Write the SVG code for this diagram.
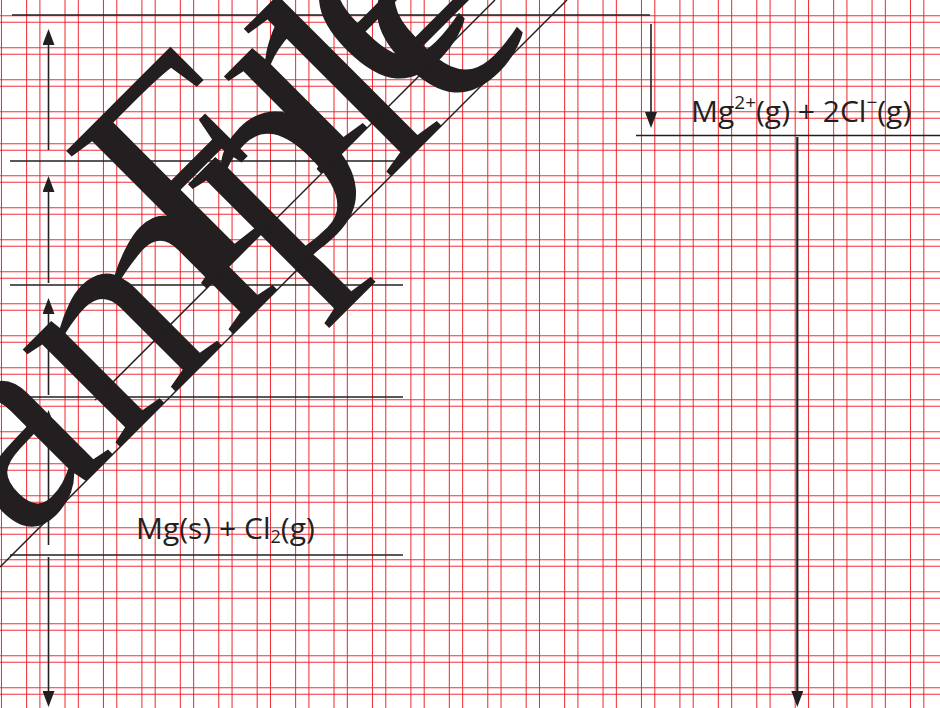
<svg xmlns="http://www.w3.org/2000/svg" width="940" height="708" viewBox="0 0 940 708">
<defs>
<style>
.g line{stroke:#ed1c24;stroke-width:1.05;stroke-opacity:0.9}
.lv{stroke:#231f20;stroke-width:1.7;fill:none}
.ar{stroke:#231f20;stroke-width:1.6;fill:none;marker-end:url(#ah)}
.lab{font-family:"Open Sans","Noto Sans",sans-serif;font-size:30px;fill:#231f20}
.wm{font-family:"Liberation Serif","Times New Roman",serif;font-size:300px;fill:#231f20}
.wl{stroke:#231f20;stroke-width:1.5}
</style>
<marker id="ah" viewBox="0 0 16 12" refX="0" refY="6" markerWidth="16" markerHeight="12" markerUnits="userSpaceOnUse" orient="auto">
<path d="M0,0 L16,6 L0,12 z" fill="#231f20"/>
</marker>
</defs>
<rect width="940" height="708" fill="#ffffff"/>
<g id="grid" class="g">
<line x1="1.47" y1="0" x2="1.47" y2="708"/>
<line x1="26.6" y1="0" x2="26.6" y2="708"/><line x1="39.9" y1="0" x2="39.9" y2="708"/>
<line x1="65.03" y1="0" x2="65.03" y2="708"/><line x1="78.33" y1="0" x2="78.33" y2="708"/>
<line x1="103.46" y1="0" x2="103.46" y2="708"/><line x1="116.76" y1="0" x2="116.76" y2="708"/>
<line x1="141.89" y1="0" x2="141.89" y2="708"/><line x1="155.19" y1="0" x2="155.19" y2="708"/>
<line x1="180.32" y1="0" x2="180.32" y2="708"/><line x1="193.62" y1="0" x2="193.62" y2="708"/>
<line x1="218.75" y1="0" x2="218.75" y2="708"/><line x1="232.05" y1="0" x2="232.05" y2="708"/>
<line x1="257.18" y1="0" x2="257.18" y2="708"/><line x1="270.48" y1="0" x2="270.48" y2="708"/>
<line x1="295.61" y1="0" x2="295.61" y2="708"/><line x1="308.91" y1="0" x2="308.91" y2="708"/>
<line x1="334.04" y1="0" x2="334.04" y2="708"/><line x1="347.34" y1="0" x2="347.34" y2="708"/>
<line x1="372.47" y1="0" x2="372.47" y2="708"/><line x1="385.77" y1="0" x2="385.77" y2="708"/>
<line x1="410.9" y1="0" x2="410.9" y2="708"/><line x1="424.2" y1="0" x2="424.2" y2="708"/>
<line x1="449.33" y1="0" x2="449.33" y2="708"/><line x1="462.63" y1="0" x2="462.63" y2="708"/>
<line x1="487.76" y1="0" x2="487.76" y2="708"/><line x1="501.06" y1="0" x2="501.06" y2="708"/>
<line x1="526.19" y1="0" x2="526.19" y2="708"/><line x1="539.49" y1="0" x2="539.49" y2="708"/>
<line x1="564.62" y1="0" x2="564.62" y2="708"/><line x1="577.92" y1="0" x2="577.92" y2="708"/>
<line x1="603.05" y1="0" x2="603.05" y2="708"/><line x1="616.35" y1="0" x2="616.35" y2="708"/>
<line x1="641.48" y1="0" x2="641.48" y2="708"/><line x1="654.78" y1="0" x2="654.78" y2="708"/>
<line x1="679.91" y1="0" x2="679.91" y2="708"/><line x1="693.21" y1="0" x2="693.21" y2="708"/>
<line x1="718.34" y1="0" x2="718.34" y2="708"/><line x1="731.64" y1="0" x2="731.64" y2="708"/>
<line x1="756.77" y1="0" x2="756.77" y2="708"/><line x1="770.07" y1="0" x2="770.07" y2="708"/>
<line x1="795.2" y1="0" x2="795.2" y2="708"/><line x1="808.5" y1="0" x2="808.5" y2="708"/>
<line x1="833.63" y1="0" x2="833.63" y2="708"/><line x1="846.93" y1="0" x2="846.93" y2="708"/>
<line x1="872.06" y1="0" x2="872.06" y2="708"/><line x1="885.36" y1="0" x2="885.36" y2="708"/>
<line x1="910.49" y1="0" x2="910.49" y2="708"/><line x1="923.79" y1="0" x2="923.79" y2="708"/>
<line x1="0" y1="15.7" x2="940" y2="15.7"/><line x1="0" y1="22.2" x2="940" y2="22.2"/>
<line x1="0" y1="47.7" x2="940" y2="47.7"/><line x1="0" y1="54.2" x2="940" y2="54.2"/>
<line x1="0" y1="79.7" x2="940" y2="79.7"/><line x1="0" y1="86.2" x2="940" y2="86.2"/>
<line x1="0" y1="111.7" x2="940" y2="111.7"/><line x1="0" y1="118.2" x2="940" y2="118.2"/>
<line x1="0" y1="143.7" x2="940" y2="143.7"/><line x1="0" y1="150.2" x2="940" y2="150.2"/>
<line x1="0" y1="175.7" x2="940" y2="175.7"/><line x1="0" y1="182.2" x2="940" y2="182.2"/>
<line x1="0" y1="207.7" x2="940" y2="207.7"/><line x1="0" y1="214.2" x2="940" y2="214.2"/>
<line x1="0" y1="239.7" x2="940" y2="239.7"/><line x1="0" y1="246.2" x2="940" y2="246.2"/>
<line x1="0" y1="271.7" x2="940" y2="271.7"/><line x1="0" y1="278.2" x2="940" y2="278.2"/>
<line x1="0" y1="303.7" x2="940" y2="303.7"/><line x1="0" y1="310.2" x2="940" y2="310.2"/>
<line x1="0" y1="335.7" x2="940" y2="335.7"/><line x1="0" y1="342.2" x2="940" y2="342.2"/>
<line x1="0" y1="367.7" x2="940" y2="367.7"/><line x1="0" y1="374.2" x2="940" y2="374.2"/>
<line x1="0" y1="399.7" x2="940" y2="399.7"/><line x1="0" y1="406.2" x2="940" y2="406.2"/>
<line x1="0" y1="431.7" x2="940" y2="431.7"/><line x1="0" y1="438.2" x2="940" y2="438.2"/>
<line x1="0" y1="463.7" x2="940" y2="463.7"/><line x1="0" y1="470.2" x2="940" y2="470.2"/>
<line x1="0" y1="495.7" x2="940" y2="495.7"/><line x1="0" y1="502.2" x2="940" y2="502.2"/>
<line x1="0" y1="527.7" x2="940" y2="527.7"/><line x1="0" y1="534.2" x2="940" y2="534.2"/>
<line x1="0" y1="559.7" x2="940" y2="559.7"/><line x1="0" y1="566.2" x2="940" y2="566.2"/>
<line x1="0" y1="591.7" x2="940" y2="591.7"/><line x1="0" y1="598.2" x2="940" y2="598.2"/>
<line x1="0" y1="623.7" x2="940" y2="623.7"/><line x1="0" y1="630.2" x2="940" y2="630.2"/>
<line x1="0" y1="655.7" x2="940" y2="655.7"/><line x1="0" y1="662.2" x2="940" y2="662.2"/>
<line x1="0" y1="687.7" x2="940" y2="687.7"/><line x1="0" y1="694.2" x2="940" y2="694.2"/>
</g>
<g id="level-top"><line class="lv" x1="12" y1="15" x2="650" y2="15"/></g>
<g id="level-2"><line class="lv" x1="10" y1="161" x2="402" y2="161"/></g>
<g id="level-3"><line class="lv" x1="10" y1="285" x2="403" y2="285"/></g>
<g id="level-4"><line class="lv" x1="10" y1="397" x2="403" y2="397"/></g>
<g id="level-elements"><line class="lv" x1="10" y1="555" x2="403" y2="555"/>
<text class="lab" x="136" y="539">Mg(s) + Cl<tspan font-size="18" dy="4">2</tspan><tspan dy="-4">(g)</tspan></text></g>
<g id="level-ions"><line class="lv" x1="636" y1="135.5" x2="940" y2="135.5"/>
<text class="lab" x="691" y="122" font-size="30.8">Mg<tspan font-size="19" dy="-13">2+</tspan><tspan dy="13">(g) + 2Cl</tspan><tspan font-size="19" dy="-13">−</tspan><tspan dy="13">(g)</tspan></text></g>
<g id="connectors">
<line class="ar" x1="48.5" y1="150" x2="48.5" y2="45"/>
<line class="ar" x1="48.5" y1="283" x2="48.5" y2="192"/>
<line class="ar" x1="48.5" y1="395" x2="48.5" y2="314"/>
<line class="ar" x1="48.5" y1="545" x2="48.5" y2="426"/>
<line class="ar" x1="48.5" y1="557" x2="48.5" y2="691"/>
<line class="ar" x1="651" y1="24" x2="651" y2="112"/>
<line class="ar" x1="797.3" y1="137" x2="797.3" y2="691" style="stroke-width:2.2"/>
</g>
<g id="watermark">
<text class="wm" transform="translate(199,296) rotate(-45)">Free</text>
<text class="wm" transform="translate(-96.5,663.5) rotate(-45)">Sample</text>
<line class="wl" x1="95" y1="400" x2="495" y2="0"/>
<line class="wl" x1="0" y1="567" x2="567" y2="0"/>
</g>
</svg>
